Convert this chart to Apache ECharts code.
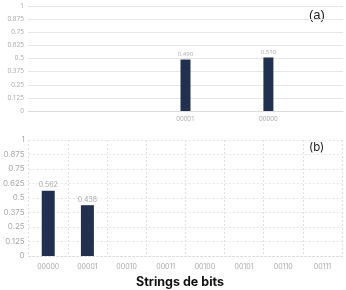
<!DOCTYPE html>
<html>
<head>
<meta charset="utf-8">
<script src="https://cdn.jsdelivr.net/npm/echarts@6/dist/echarts.min.js"></script>
<style>
  html, body { margin: 0; padding: 0; background: #fff; }
  #chart { width: 346px; height: 290px; }
</style>
</head>
<body>
<div id="chart"></div>
<script>
// panel (a): only two strings measured, placed on a wide slot axis
var catsA = ['', '', '', '', '', '', '', '', '', '00001', '', '', '', '', '00000', '', '', '', ''];
var valsA = [null, null, null, null, null, null, null, null, null, 0.490, null, null, null, null, 0.510, null, null, null, null];

// panel (b): all 3-bit prefixes
var catsB = ['00000', '00001', '00010', '00011', '00100', '00101', '00110', '00111'];
var valsB = [0.562, 0.438, 0, 0, 0, 0, 0, 0];

var yTicks = [0, 0.125, 0.25, 0.375, 0.5, 0.625, 0.75, 0.875, 1];

var navy = '#22304f';
var grey = '#a9a9a9';

var chart = echarts.init(document.getElementById('chart'));

function yAxis(idx, font, size, dashed) {
    return {
        type: 'value', gridIndex: idx, min: 0, max: 1, interval: 0.125,
        axisLine: { show: false }, axisTick: { show: false },
        axisLabel: {
            color: grey, fontFamily: font, fontSize: size, margin: 4,
            formatter: function (v) { return yTicks.indexOf(v) >= 0 ? String(v) : ''; }
        },
        splitLine: { lineStyle: { color: '#e6e6e6', type: dashed ? [2, 2] : 'solid' } }
    };
}

chart.setOption({
    animation: false,
    grid: [
        { left: 28, right: 3, top: 6, height: 105 },
        { left: 27, right: 4, top: 140, height: 116 }
    ],
    xAxis: [{
        type: 'category', gridIndex: 0, data: catsA,
        axisLine: { lineStyle: { color: '#dcdcdc' } }, axisTick: { show: false },
        axisLabel: { interval: 0, color: grey, fontFamily: 'Open Sans', fontSize: 6.5, margin: 5 },
        splitLine: { show: false }
    }, {
        type: 'category', gridIndex: 1, data: catsB,
        axisLine: { lineStyle: { color: '#dcdcdc', type: [2, 2] } }, axisTick: { show: false },
        axisLabel: { interval: 0, color: grey, fontFamily: 'Inter', fontSize: 7, margin: 7 },
        splitLine: { show: true, interval: 0, lineStyle: { color: '#e0e0e0', type: [2, 2] } }
    }],
    yAxis: [yAxis(0, 'Open Sans', 6.5, false), yAxis(1, 'Inter', 8, true)],
    series: [{
        type: 'bar', xAxisIndex: 0, yAxisIndex: 0, data: valsA,
        barWidth: 10,
        itemStyle: { color: navy },
        label: {
            show: true, position: 'top', distance: 2, color: grey,
            fontFamily: 'Open Sans', fontSize: 6,
            formatter: function (p) { return p.value.toFixed(3); }
        }
    }, {
        type: 'bar', xAxisIndex: 1, yAxisIndex: 1, data: valsB,
        barWidth: 13,
        itemStyle: { color: navy },
        label: {
            show: true, position: 'top', distance: 2, color: grey,
            fontFamily: 'Inter', fontSize: 7,
            formatter: function (p) { return p.value > 0 ? p.value.toFixed(3) : ''; }
        }
    }],
    graphic: [
        { type: 'text', left: 309, top: 9, style: { text: '(a)', fontFamily: 'Liberation Sans', fontSize: 13, fill: '#222' } },
        { type: 'text', left: 309, top: 142, style: { text: '(b)', fontFamily: 'Inter', fontSize: 11.5, fill: '#222' } },
        { type: 'text', left: 136, top: 276, style: { text: 'Strings de bits', fontFamily: 'Inter', fontWeight: 'bold', fontSize: 12.5, fill: '#111' } }
    ]
});
</script>
</body>
</html>
